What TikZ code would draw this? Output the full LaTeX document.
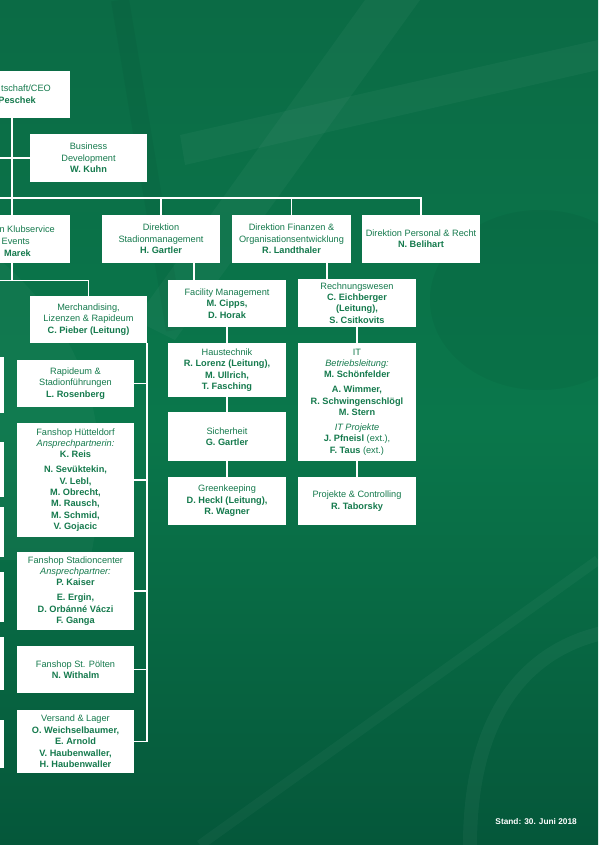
\documentclass[tikz,border=0pt]{standalone}
\usepackage{fontspec}
\setmainfont{Liberation Sans}
\usetikzlibrary{calc}
\definecolor{bgtop}{HTML}{0B6B45}
\definecolor{bgmid}{HTML}{0A774B}
\definecolor{bgbot}{HTML}{05573A}
\definecolor{txtgreen}{HTML}{157A4D}
\tikzset{
  box/.style={fill=white, text=txtgreen, align=center, inner sep=0pt,
    font=\fontsize{9.2}{11.4}\selectfont},
  sliver/.style={fill=white, inner sep=0pt},
  conn/.style={draw=white, line width=1.7pt},
  cuttext/.style={text=txtgreen, inner sep=0pt, font=\fontsize{9.2}{11.4}\selectfont},
}
\begin{document}
\begin{tikzpicture}[x=1pt,y=-1pt]
% background
\useasboundingbox (0,0) rectangle (598,845);
\shade[top color=bgtop, bottom color=bgbot, middle color=bgmid] (0,0) rectangle (598,845);
\begin{scope}
\clip (0,0) rectangle (598,845);
\fill[white, opacity=0.035] (365,0) -- (420,0) -- (175,340) -- (135,320) -- cycle;
\fill[white, opacity=0.035] (180,135) -- (598,40) -- (598,70) -- (185,165) -- cycle;
\fill[black, opacity=0.04] (540,300) ellipse (110 and 90);
\fill[white, opacity=0.03] (0,260) .. controls (80,330) and (120,420) .. (90,560) -- (0,560) -- cycle;
\draw[white, opacity=0.04, line width=14pt] (470,845) .. controls (470,700) and (540,640) .. (620,630);
\draw[white, opacity=0.035, line width=10pt] (200,845) -- (598,560);
\draw[black, opacity=0.04, line width=18pt] (120,0) -- (175,330);
\end{scope}

% top level
\node[box, minimum width=116pt, minimum height=47pt] (ceo) at (12,94.5) {};
\node[cuttext, anchor=base east] (ceot1) at (51,91.5) {tschaft/CEO};
\node[cuttext, anchor=base east, font=\fontsize{9.2}{11.4}\selectfont\bfseries] (ceot2) at (36,103.5) {Peschek};

\node[box, minimum width=117pt, minimum height=48pt] (bd) at (88.5,158) {Business\\Development\\\textbf{W. Kuhn}};

% directions
\node[box, minimum width=116pt, minimum height=48pt] (kl) at (12,239) {};
\node[cuttext, anchor=base east] (klt1) at (55,232.5) {n Klubservice};
\node[cuttext, anchor=base east] (klt2) at (30,244.5) {Events};
\node[cuttext, anchor=base east, font=\fontsize{9.2}{11.4}\selectfont\bfseries] (klt3) at (31,256) {Marek};

\node[box, minimum width=118pt, minimum height=48pt] (stad) at (161,239) {Direktion\\Stadionmanagement\\\textbf{H. Gartler}};
\node[box, minimum width=119pt, minimum height=48pt] (fin) at (291.5,239) {Direktion Finanzen \&\\Organisationsentwicklung\\\textbf{R. Landthaler}};
\node[box, minimum width=118pt, minimum height=48pt] (pers) at (421,239) {Direktion Personal \& Recht\\\textbf{N. Belihart}};

% Merchandising column
\node[box, minimum width=117pt, minimum height=47pt] (merch) at (88.5,319.5) {Merchandising,\\Lizenzen \& Rapideum\\\textbf{C. Pieber (Leitung)}};
\node[box, minimum width=117pt, minimum height=47pt] (rap) at (75.5,383.5) {Rapideum \&\\Stadionführungen\\\textbf{L. Rosenberg}};
\node[box, minimum width=117pt, minimum height=114pt] (hue) at (75.5,480) {Fanshop Hütteldorf\\\textit{Ansprechpartnerin:}\\\textbf{K. Reis}\\[3.5pt]\textbf{N. Sevüktekin,}\\\textbf{V. Lebl,}\\\textbf{M. Obrecht,}\\\textbf{M. Rausch,}\\\textbf{M. Schmid,}\\\textbf{V. Gojacic}};
\node[box, minimum width=117pt, minimum height=78pt] (stc) at (75.5,591) {Fanshop Stadioncenter\\\textit{Ansprechpartner:}\\\textbf{P. Kaiser}\\[3.5pt]\textbf{E. Ergin,}\\\textbf{D. Orbánné Váczi}\\\textbf{F. Ganga}};
\node[box, minimum width=117pt, minimum height=47pt] (stp) at (75.5,669.5) {Fanshop St. Pölten\\\textbf{N. Withalm}};
\node[box, minimum width=117pt, minimum height=63pt] (ver) at (75.5,741.5) {Versand \& Lager\\\textbf{O. Weichselbaumer,}\\\textbf{E. Arnold}\\\textbf{V. Haubenwaller,}\\\textbf{H. Haubenwaller}};

% left cut-off column
\node[sliver, minimum width=24pt, minimum height=56pt] (s1) at (-8,385) {};
\node[sliver, minimum width=24pt, minimum height=55pt] (s2) at (-8,469.5) {};
\node[sliver, minimum width=24pt, minimum height=50pt] (s3) at (-8,532) {};
\node[sliver, minimum width=24pt, minimum height=50pt] (s4) at (-8,597) {};
\node[sliver, minimum width=24pt, minimum height=53pt] (s5) at (-8,663.5) {};
\node[sliver, minimum width=24pt, minimum height=48pt] (s6) at (-8,744) {};

% Stadion column
\node[box, minimum width=118pt, minimum height=47pt] (fm) at (227,303.5) {Facility Management\\\textbf{M. Cipps,}\\\textbf{D. Horak}};
\node[box, minimum width=118pt, minimum height=54pt] (ht) at (227,370) {Haustechnik\\\textbf{R. Lorenz (Leitung),}\\\textbf{M. Ullrich,}\\\textbf{T. Fasching}};
\node[box, minimum width=118pt, minimum height=49pt] (si) at (227,436.5) {Sicherheit\\\textbf{G. Gartler}};
\node[box, minimum width=118pt, minimum height=48pt] (gk) at (227,501) {Greenkeeping\\\textbf{D. Heckl (Leitung),}\\\textbf{R. Wagner}};

% Finance column
\node[box, minimum width=118pt, minimum height=48pt] (rw) at (357,303) {Rechnungswesen\\\textbf{C. Eichberger}\\\textbf{(Leitung),}\\\textbf{S. Csitkovits}};
\node[box, minimum width=118pt, minimum height=118pt] (it) at (357,402) {IT\\\textit{Betriebsleitung:}\\\textbf{M. Schönfelder}\\[3.5pt]\textbf{A. Wimmer,}\\\textbf{R. Schwingenschlögl}\\\textbf{M. Stern}\\[3.5pt]\textit{IT Projekte}\\\textbf{J. Pfneisl} (ext.),\\\textbf{F. Taus} (ext.)};
\node[box, minimum width=118pt, minimum height=48pt] (pc) at (357,501) {Projekte \& Controlling\\\textbf{R. Taborsky}};

% connectors
\coordinate (bdl) at (-5,158);
\coordinate (barL) at (-5,198);
\coordinate (kll) at (-5,280.5);
\draw[conn] (ceo.south) -- (kl.north);
\draw[conn] (bdl) -- (bd.west);
\draw[conn] (barL) -- (barL -| pers.north) -- (pers.north);
\draw[conn] (stad.north |- barL) -- (stad.north);
\draw[conn] (fin.north |- barL) -- (fin.north);
\draw[conn] (kl.south) -- (kl.south |- kll);
\draw[conn] (kll) -- (kll -| merch.north) -- (merch.north);
\draw[conn] ([xshift=33pt]stad.south) -- ([xshift=33pt]stad.south |- fm.north);
\draw[conn] ([xshift=35.5pt]fin.south) -- ([xshift=35.5pt]fin.south |- rw.north);
\draw[conn] (fm.south) -- (ht.north);
\draw[conn] (ht.south) -- (si.north);
\draw[conn] (si.south) -- (gk.north);
\draw[conn] (rw.south) -- (it.north);
\draw[conn] (it.south) -- (pc.north);
\draw[conn] (merch.south east) -- (merch.south east |- ver.east) -- (ver.east);
\draw[conn] (rap.east) -- (rap.east -| merch.east);
\draw[conn] (hue.east) -- (hue.east -| merch.east);
\draw[conn] (stc.east) -- (stc.east -| merch.east);
\draw[conn] (stp.east) -- (stp.east -| merch.east);

% footer
\node[anchor=base east, text=white, inner sep=0pt, font=\fontsize{8.3}{10}\selectfont\bfseries] (stand) at (577,824) {Stand: 30. Juni 2018};
\end{tikzpicture}
\end{document}
